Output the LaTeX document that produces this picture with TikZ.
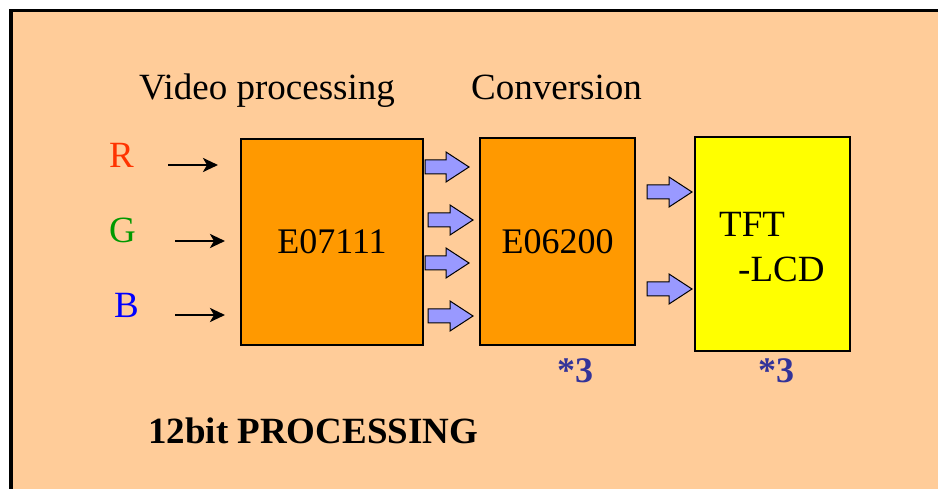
\documentclass[tikz,border=0pt]{standalone}
\usepackage{fontspec}
\setmainfont{Liberation Serif}
\usetikzlibrary{calc,arrows.meta}
\definecolor{peach}{HTML}{FFCC99}
\definecolor{boxorange}{HTML}{FF9900}
\definecolor{lcdyellow}{HTML}{FFFF00}
\definecolor{arrblue}{HTML}{9999FF}
\definecolor{starblue}{HTML}{333399}
\definecolor{rred}{HTML}{FF3300}
\definecolor{ggreen}{HTML}{009900}
\definecolor{bblue}{HTML}{0000FF}
\tikzset{
  chip/.style={draw=black, line width=2pt, inner sep=0pt},
  lbl/.style={inner sep=0pt, anchor=base west, font=\fontsize{37}{40}\selectfont},
  blockarr/.style={draw=black, line width=1pt, fill=arrblue, line join=miter},
  thinarr/.style={line width=2.6pt, -{Stealth[length=15pt,width=14pt,inset=4pt]}},
  star/.style={inner sep=0pt, anchor=base west, text=starblue, font=\fontsize{36}{40}\selectfont\bfseries}
}
\newcommand\barrow[2]{\draw[blockarr] let \p1=(#1), \p2=(#2) in
  (\x1,\y1+7pt) -- (\x2-23pt,\y1+7pt) -- (\x2-23pt,\y1+15pt) -- (\x2,\y1)
  -- (\x2-23pt,\y1-15pt) -- (\x2-23pt,\y1-7pt) -- (\x1,\y1-7pt) -- cycle;}
\begin{document}
\begin{tikzpicture}[x=1pt,y=-1pt]
\useasboundingbox (0,0) rectangle (938,489);
\fill[white] (0,0) rectangle (938,489);
\fill[peach] (11,10.5) rectangle (938,489);
\draw[line width=4pt] (11,489) -- (11,10.5);
\draw[line width=3.5pt] (9,10.5) -- (938,10.5);

% titles
\node[lbl] (tvp) at (139,100) {Video processing};
\node[lbl] (tcv) at (471,100) {Conversion};

% boxes
\node[chip, fill=boxorange, minimum width=182pt, minimum height=206pt,
  font=\fontsize{36}{40}\selectfont] (e1) at (332,242) {E07111};
\node[chip, fill=boxorange, minimum width=155pt, minimum height=207pt,
  font=\fontsize{36}{40}\selectfont] (e2) at (557.5,241.5) {E06200};
\node[chip, fill=lcdyellow, minimum width=155pt, minimum height=214pt] (lcd) at (772.5,244) {};
\node[lbl] (ttft) at (719,237) {TFT};
\node[lbl] (tlcd) at (738,282) {-LCD};

% RGB labels
\node[lbl, text=rred] (lr) at (109,168) {R};
\node[lbl, text=ggreen] (lg) at (109,243) {G};
\node[lbl, text=bblue] (lb) at (114,318) {B};

% thin input arrows
\coordinate (r0) at (168,165); \coordinate (r1) at (218,165);
\coordinate (g0) at (175,241); \coordinate (g1) at (225,241);
\coordinate (b0) at (175,315); \coordinate (b1) at (225,315);
\draw[thinarr] (r0) -- (r1);
\draw[thinarr] (g0) -- (g1);
\draw[thinarr] (b0) -- (b1);

% block arrows
\coordinate (a1s) at ($(e1.east|-0,167)+(1,0)$);  \coordinate (a1t) at ($(e2.west|-0,167)+(-10,0)$);
\coordinate (a2s) at ($(e1.east|-0,220)+(4,0)$);  \coordinate (a2t) at ($(e2.west|-0,220)+(-6,0)$);
\coordinate (a3s) at ($(e1.east|-0,263)+(1,0)$);  \coordinate (a3t) at ($(e2.west|-0,263)+(-10,0)$);
\coordinate (a4s) at ($(e1.east|-0,316)+(4,0)$);  \coordinate (a4t) at ($(e2.west|-0,316)+(-6,0)$);
\coordinate (a5s) at ($(e2.east|-0,192)+(11,0)$); \coordinate (a5t) at ($(lcd.west|-0,192)+(-2,0)$);
\coordinate (a6s) at ($(e2.east|-0,289)+(11,0)$); \coordinate (a6t) at ($(lcd.west|-0,289)+(-2,0)$);
\barrow{a1s}{a1t}
\barrow{a2s}{a2t}
\barrow{a3s}{a3t}
\barrow{a4s}{a4t}
\barrow{a5s}{a5t}
\barrow{a6s}{a6t}

% multipliers
\node[star] (m1) at (557,382) {*3};
\node[star] (m2) at (758,382) {*3};

% bottom caption
\node[lbl, font=\fontsize{37}{40}\selectfont\bfseries] (cap) at (148,443) {12bit PROCESSING};
\end{tikzpicture}
\end{document}
